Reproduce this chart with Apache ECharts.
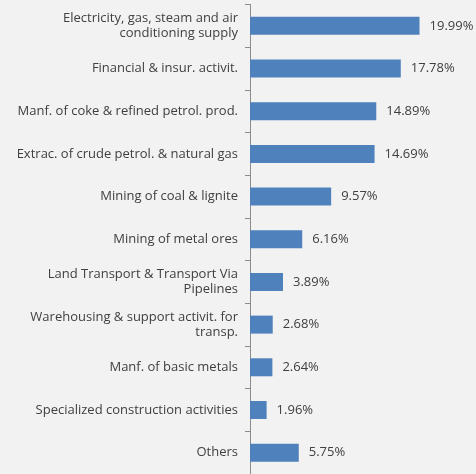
<!DOCTYPE html>
<html>
<head>
<meta charset="utf-8">
<script src="https://cdn.jsdelivr.net/npm/echarts@6/dist/echarts.min.js"></script>
<style>
  html, body { margin: 0; padding: 0; background: #f2f2f2; }
  #chart { width: 476px; height: 474px; }
</style>
</head>
<body>
<div id="chart"></div>
<script>
// Sector shares, listed top to bottom
const categories = [
  'Electricity, gas, steam and air\nconditioning supply',
  'Financial & insur. activit.',
  'Manf. of coke & refined petrol. prod.',
  'Extrac. of crude petrol. & natural gas',
  'Mining of coal & lignite',
  'Mining of metal ores',
  'Land Transport & Transport Via\nPipelines',
  'Warehousing & support activit. for\ntransp.',
  'Manf. of basic metals',
  'Specialized construction activities',
  'Others'
];
const shares = [19.99, 17.78, 14.89, 14.69, 9.57, 6.16, 3.89, 2.68, 2.64, 1.96, 5.75];

const chart = echarts.init(document.getElementById('chart'), null, { renderer: 'canvas' });
const textColor = '#404040';
const fontFamily = '"Open Sans", "DejaVu Sans", sans-serif';

chart.setOption({
  backgroundColor: '#f2f2f2',
  animation: false,
  // plot area runs a few pixels past the bottom edge, so the last band is cut
  grid: { left: 250, width: 212, top: 4.5, height: 473, containLabel: false },
  xAxis: {
    type: 'value',
    min: 0,
    max: 25,
    show: false
  },
  yAxis: {
    type: 'category',
    inverse: true,
    data: categories,
    axisLine: { show: true, lineStyle: { color: '#8c8c8c', width: 1 } },
    axisTick: { show: true, length: 5, lineStyle: { color: '#8c8c8c' } },
    axisLabel: {
      color: textColor,
      fontSize: 13,
      fontFamily: fontFamily,
      margin: 12,
      lineHeight: 15,
      align: 'right'
    },
    splitLine: { show: false }
  },
  series: [{
    type: 'bar',
    data: shares,
    barWidth: 18,
    itemStyle: { color: '#4f81bd' },
    label: {
      show: true,
      position: 'right',
      distance: 10,
      color: textColor,
      fontSize: 13,
      fontFamily: fontFamily,
      formatter: p => p.value.toFixed(2) + '%'
    }
  }]
});
</script>
</body>
</html>
